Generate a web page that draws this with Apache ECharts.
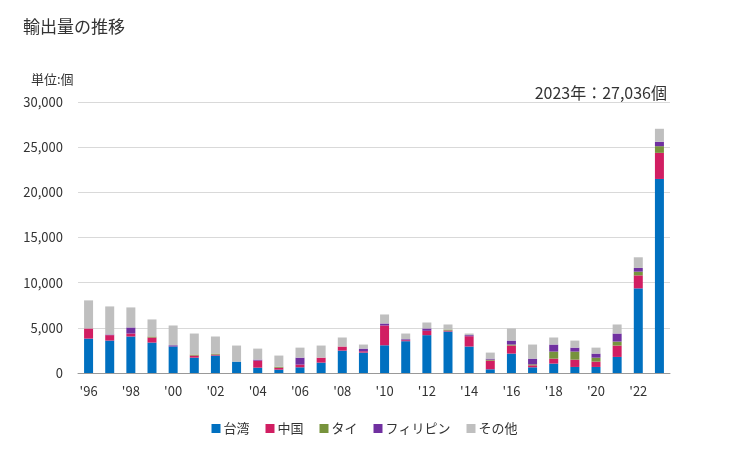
<!DOCTYPE html>
<html><head><meta charset="utf-8">
<script src="https://cdn.jsdelivr.net/npm/echarts@6/dist/echarts.min.js"></script>
<style>html,body{margin:0;padding:0;background:#fff}#c{width:729px;height:450px}</style>
</head><body><div id="c"></div>
<script>
const years = ["'96","'97","'98","'99","'00","'01","'02","'03","'04","'05","'06","'07","'08","'09","'10","'11","'12","'13","'14","'15","'16","'17","'18","'19","'20","'21","'22","'23"];
const taiwan = [3810,3590,4040,3370,2930,1700,1930,1260,590,370,630,1150,2480,2260,3070,3520,4190,4590,2930,410,2150,630,1040,670,670,1780,9370,21480];
const china  = [1120,600,330,560,0,230,110,0,780,220,300,550,450,150,2190,110,480,110,1140,960,890,220,550,810,590,1260,1440,2890];
const thai   = [0,0,0,110,0,110,110,0,0,110,0,0,0,0,0,0,0,110,0,110,110,110,780,890,440,440,410,740];
const phil   = [0,70,670,0,140,0,0,0,110,0,770,0,0,290,220,110,260,0,120,110,440,630,780,440,450,890,410,480];
const other  = [3110,3110,2220,1890,2190,2330,1890,1780,1220,1230,1110,1340,1000,450,1000,630,660,560,180,670,1340,1560,780,780,660,1000,1180,1446];
const seriesNames = ['台湾','中国','タイ','フィリピン','その他'];
const colors = ['#0070c0','#d11e62','#77933c','#7030a0','#bfbfbf'];
const yTicks = [0,5000,10000,15000,20000,25000,30000];

const chart = echarts.init(document.getElementById('c'));
const datas = [taiwan, china, thai, phil, other];
chart.setOption({
  animation:false,
  textStyle:{fontFamily:'"Noto Sans CJK JP","Noto Sans",sans-serif'},
  title:[
    {text:'輸出量の推移',left:18,top:13,textStyle:{fontSize:17,fontWeight:'normal',color:'#333'}},
    {text:'単位:個',left:26,top:68,textStyle:{fontSize:13,fontWeight:'normal',color:'#333'}},
    {text:'2023年：27,036個',right:57,top:80,textStyle:{fontSize:16,fontWeight:'normal',color:'#333'}}
  ],
  legend:{bottom:10,left:'center',itemWidth:9,itemHeight:9,itemGap:16,icon:'rect',
    textStyle:{fontSize:13,color:'#333',padding:[0,0,0,-2]},data:seriesNames},
  grid:{left:78,right:59,top:102,bottom:77},
  xAxis:{type:'category',data:years,
    axisLine:{lineStyle:{color:'#999'}},axisTick:{show:false},
    axisLabel:{interval:1,color:'#333',fontSize:13,margin:12}},
  yAxis:{type:'value',min:0,max:30000,interval:5000,
    axisLabel:{color:'#333',fontSize:13,margin:15,formatter:v=>v.toLocaleString('en-US')},
    splitLine:{lineStyle:{color:'#d9d9d9'}},axisLine:{show:false},axisTick:{show:false}},
  series: seriesNames.map((n,i)=>({name:n,type:'bar',stack:'a',barWidth:9,data:datas[i],
    itemStyle:{color:colors[i]}}))
});
</script></body></html>
